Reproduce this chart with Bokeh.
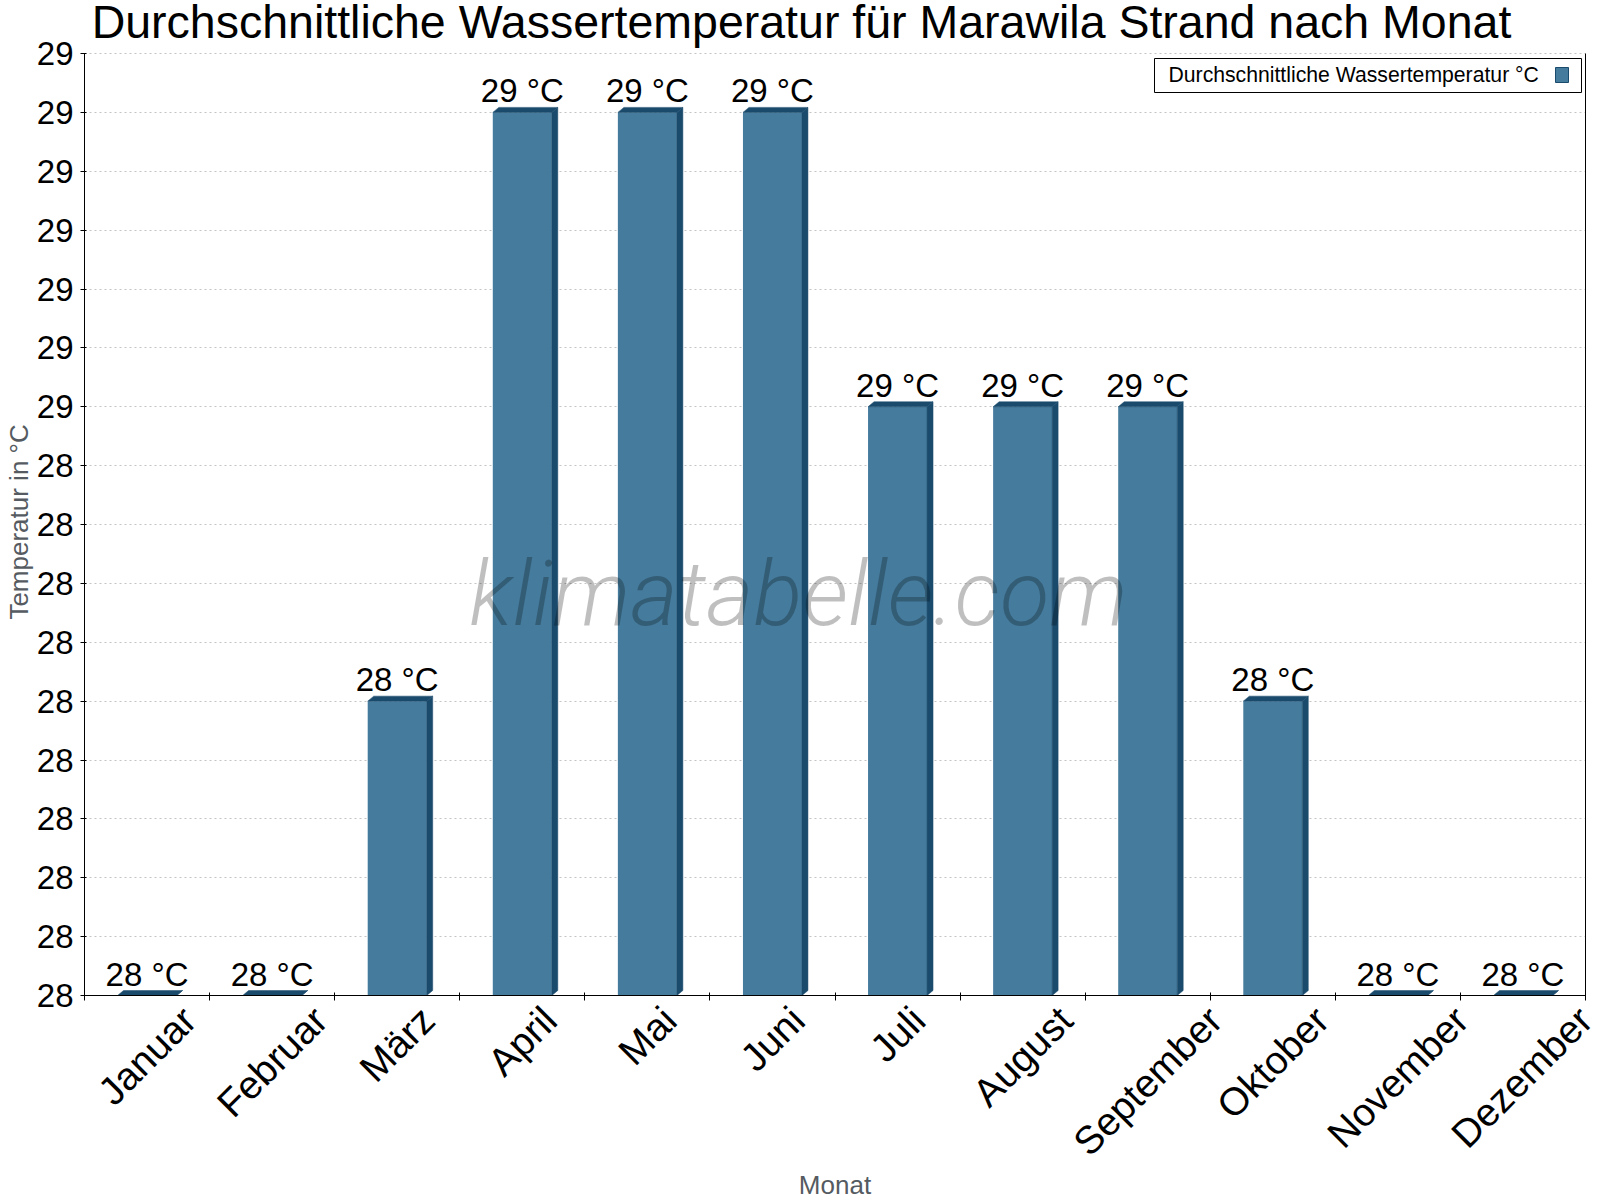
import math

from bokeh.embed import file_html
from bokeh.models import (BoxAnnotation, ColumnDataSource, CustomJSTickFormatter,
                          FixedTicker, Label, LabelSet, LinearAxis, Range1d, Title)
from bokeh.core.properties import value
from bokeh.plotting import figure
from bokeh.resources import INLINE

# ---- data -------------------------------------------------------------
months = ["Januar", "Februar", "März", "April", "Mai", "Juni", "Juli",
          "August", "September", "Oktober", "November", "Dezember"]
water_temp = [28.0, 28.0, 28.25, 28.75, 28.75, 28.75, 28.5, 28.5, 28.5,
              28.25, 28.0, 28.0]
y_ticks = [28.0, 28.05, 28.1, 28.15, 28.2, 28.25, 28.3, 28.35, 28.4, 28.45,
           28.5, 28.55, 28.6, 28.65, 28.7, 28.75, 28.8]
y_tick_labels = ["28"] * 10 + ["29"] * 7

title_text = "Durchschnittliche Wassertemperatur für Marawila Strand nach Monat"
legend_text = "Durchschnittliche Wassertemperatur °C"
y_title = "Temperatur in °C"
x_title = "Monat"
watermark = "klimatabelle.com"

# ---- layout -----------------------------------------------------------
Y_MIN, Y_MAX = 28.0, 28.8
N = len(months)
PLOT_W, PLOT_H = 1501, 942          # size of the value area in pixels
LEFT, TOP, RIGHT, BOTTOM = 84, 53, 15, 205

FRONT = "#457b9d"
DARK = "#1a4b6c"
FONT = "Liberation Sans"
GREY = "#555b61"

ux = N / PLOT_W                   # data units per pixel, x
uy = (Y_MAX - Y_MIN) / PLOT_H     # data units per pixel, y
Y_TOP = Y_MAX + TOP * uy          # frame reaches up to the top of the page


def page_x(px):
    return (px - LEFT) * ux


def page_y(py):
    return Y_MAX - (py - TOP) * uy


# Arial / Liberation Sans advance widths (per 1000 em)
ADV = {'J': 500, 'a': 556, 'n': 556, 'u': 556, 'r': 333, 'F': 611, 'e': 556,
       'b': 556, 'M': 833, 'ä': 556, 'z': 500, 'A': 667, 'p': 556, 'i': 222,
       'l': 222, 'g': 556, 's': 500, 't': 278, 'S': 667, 'm': 833, 'O': 778,
       'k': 500, 'o': 556, 'v': 500, 'N': 722, 'D': 722, 'T': 611, ' ': 278,
       '°': 400, 'C': 722}


def text_width(s, size):
    return sum(ADV.get(c, 556) for c in s) / 1000.0 * size


def nearest_label(vals, txts):
    return CustomJSTickFormatter(
        args=dict(tick_vals=vals, tick_txt=txts),
        code="""
        let best = 0;
        for (let i = 0; i < tick_vals.length; i++) {
            if (Math.abs(tick_vals[i] - tick) < Math.abs(tick_vals[best] - tick)) best = i;
        }
        return tick_txt[best];
        """)


p = figure(frame_width=PLOT_W, frame_height=PLOT_H + TOP,
           x_range=Range1d(0, N), y_range=Range1d(Y_MIN, Y_TOP),
           output_backend="svg", toolbar_location=None,
           min_border_left=LEFT, min_border_top=0,
           min_border_right=RIGHT, min_border_bottom=BOTTOM,
           background_fill_color="white", border_fill_color="white",
           outline_line_color=None)

# x axis: tick marks on the category boundaries
p.xaxis.ticker = FixedTicker(ticks=list(range(N + 1)))
p.xaxis.formatter = CustomJSTickFormatter(code="return ''")
p.xaxis.major_label_standoff = 0
p.xaxis.major_tick_out = 5
p.xaxis.major_tick_in = 3
p.xaxis.minor_tick_line_color = None
p.xaxis.axis_line_color = "black"
p.xaxis.major_tick_line_color = "black"
p.xgrid.visible = False

# second x axis carrying the rotated month names (centred under each bar);
# the label is anchored at its end, so the anchor sits right of the bar centre
MONTH_SIZE = 39
xc = [i + 0.5 for i in range(N)]
month_ticks = [min(c + 0.3536 * text_width(m, MONTH_SIZE) * ux, N - 0.001)
               for c, m in zip(xc, months)]
month_axis = LinearAxis(ticker=FixedTicker(ticks=month_ticks),
                        formatter=nearest_label(month_ticks, months),
                        major_label_orientation=math.pi / 4,
                        major_label_text_font=FONT,
                        major_label_text_font_size="%dpx" % MONTH_SIZE,
                        major_label_text_color="black",
                        major_label_standoff=13,
                        major_tick_line_color=None,
                        major_tick_out=0, major_tick_in=0,
                        minor_tick_line_color=None,
                        axis_line_color=None,
                        axis_label=x_title,
                        axis_label_text_font=FONT,
                        axis_label_text_font_size="26px",
                        axis_label_text_font_style="normal",
                        axis_label_text_color=GREY,
                        axis_label_standoff=-12)
p.add_layout(month_axis, "below")

# y axis
p.yaxis.bounds = (Y_MIN, Y_MAX)
p.yaxis.ticker = FixedTicker(ticks=y_ticks)
p.yaxis.formatter = nearest_label(y_ticks, y_tick_labels)
p.yaxis.major_label_text_font = FONT
p.yaxis.major_label_text_font_size = "33px"
p.yaxis.major_label_text_color = "black"
p.yaxis.major_label_standoff = 7
p.yaxis.major_tick_out = 4
p.yaxis.major_tick_in = 2
p.yaxis.minor_tick_line_color = None
p.yaxis.axis_line_color = "black"
p.ygrid.ticker = FixedTicker(ticks=y_ticks)
p.ygrid.grid_line_color = "#c4c4c4"
p.ygrid.grid_line_dash = "2 3"

# y axis title, centred on the value area (frame bottom is the x axis)
Y_TITLE_SIZE = 26
y_title_centre = TOP + PLOT_H / 2 - 4            # pixel row of its centre
y_title_offset = (TOP + PLOT_H) - y_title_centre - text_width(y_title, Y_TITLE_SIZE) / 2
p.add_layout(Title(text=y_title, align="left", offset=y_title_offset,
                   standoff=0, text_font=FONT,
                   text_font_size="%dpx" % Y_TITLE_SIZE,
                   text_font_style="normal", text_color=GREY), "left")

right_axis = LinearAxis(bounds=(Y_MIN, Y_MAX), ticker=FixedTicker(ticks=[]),
                        formatter=CustomJSTickFormatter(code="return ''"),
                        major_tick_line_color=None, minor_tick_line_color=None,
                        axis_line_color="black")
p.add_layout(right_axis, "right")

# ---- 3D bars ------------------------------------------------------------
bw = 59 * ux
dx, dy = 6 * ux, 5 * uy

p.vbar(x=xc, top=water_temp, bottom=Y_MIN, width=bw,
       fill_color=FRONT, line_color=None)

cap_xs, cap_ys, side_xs, side_ys = [], [], [], []
for x, t in zip(xc, water_temp):
    l, r = x - bw / 2, x + bw / 2
    cap_xs.append([l, l + dx, r + dx, r])
    cap_ys.append([t, t + dy, t + dy, t])
    side_xs.append([r, r + dx, r + dx, r])
    side_ys.append([Y_MIN, Y_MIN + dy, t + dy, t])
p.patches(cap_xs, cap_ys, fill_color=DARK, line_color=DARK, line_width=0.5)
p.patches(side_xs, side_ys, fill_color=DARK, line_color=DARK, line_width=0.5)

# value labels above each bar
val_src = ColumnDataSource(dict(
    x=xc,
    y=[t + 10 * uy for t in water_temp],
    text=["%d °C" % math.floor(t + 0.5) for t in water_temp]))
p.add_layout(LabelSet(x="x", y="y", text="text", source=val_src,
                      text_align="center", text_baseline="alphabetic",
                      text_font=value(FONT), text_font_size="33px",
                      text_color="black"))


def baseline_label(px, baseline, text, size, **kw):
    # Label anchors on the middle of its text box; shift so the text's
    # baseline lands on the requested pixel row
    return Label(x=page_x(px), y=page_y(baseline - 0.35 * size), text=text,
                 text_baseline="middle", text_font_size="%gpx" % size, **kw)


# ---- title ------------------------------------------------------------
p.add_layout(baseline_label(801, 38, title_text, 46.5, text_align="center",
                            text_font=FONT, text_color="black"))

# ---- legend -------------------------------------------------------------
p.add_layout(BoxAnnotation(left=page_x(1154), right=page_x(1581),
                           top=page_y(58), bottom=page_y(92),
                           fill_color="white", fill_alpha=1,
                           line_color="black", line_width=1, line_alpha=1))
p.add_layout(baseline_label(1168, 81, legend_text, 21.2, text_align="left",
                            text_font=FONT, text_color="black"))
p.add_layout(BoxAnnotation(left=page_x(1555), right=page_x(1568),
                           top=page_y(67), bottom=page_y(82),
                           fill_color=FRONT, fill_alpha=1,
                           line_color=DARK, line_width=1, line_alpha=1))

# ---- watermark ----------------------------------------------------------
p.add_layout(baseline_label(798, 625, watermark, 91, text_align="center",
                            text_font="Roboto Light", text_font_style="italic",
                            text_color="black", text_alpha=0.25))

open("out.html", "w").write(file_html(p, INLINE))
